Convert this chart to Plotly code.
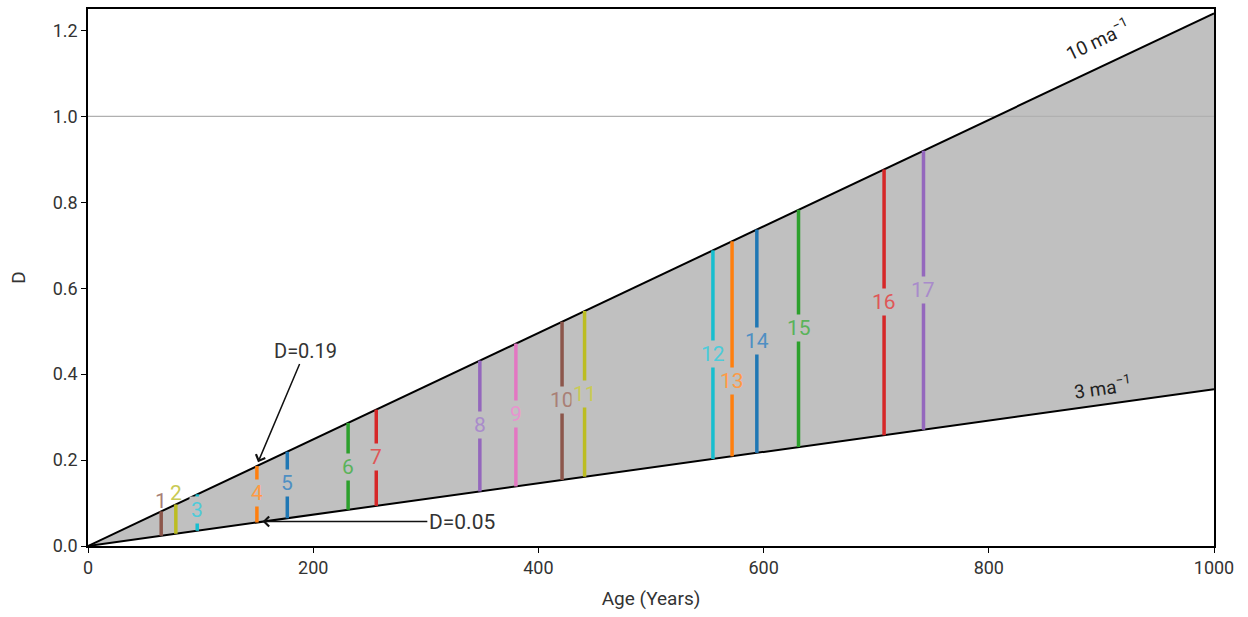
import plotly.graph_objects as go

# Envelope of D against age: upper and lower bounding rates (D per year)
upper_rate = 0.00124
lower_rate = 0.000365
age_max = 1000

# Sample ages (years) and their numbered labels
sample_ids = [str(i) for i in range(1, 18)]
sample_ages = [65, 78, 97, 150, 177, 231, 256, 348, 380, 421, 441, 555, 572, 594, 631, 707, 742]
label_d = [0.104, 0.123, 0.083, 0.123, 0.146, 0.185, 0.208, 0.281, 0.308, 0.341, 0.354,
           0.446, 0.384, 0.477, 0.507, 0.568, 0.595]
sample_colors = ["#8c564b", "#bcbd22", "#17becf", "#ff7f0e", "#1f77b4", "#2ca02c", "#d62728",
                 "#9467bd", "#e377c2", "#8c564b", "#bcbd22", "#17becf", "#ff7f0e", "#1f77b4",
                 "#2ca02c", "#d62728", "#9467bd"]
label_colors = ["#a97f76", "#c9ca55", "#4dcbd9", "#ff9a45", "#4f8fc3", "#5ab35a", "#df5757",
                "#a98bcb", "#e993cf", "#a97f76", "#c9ca55", "#4dcbd9", "#ff9a45", "#4f8fc3",
                "#5ab35a", "#df5757", "#a98bcb"]

band_color = "#c0c0c0"
font_family = "Roboto"

fig = go.Figure()

# Shaded band between the two rates
fig.add_trace(go.Scatter(
    x=[0, age_max, age_max, 0],
    y=[0, upper_rate * age_max, lower_rate * age_max, 0],
    fill="toself", fillcolor=band_color, mode="lines",
    line=dict(width=0), hoverinfo="skip", showlegend=False))

# Reference line at D = 1
fig.add_trace(go.Scatter(x=[0, age_max], y=[1.0, 1.0], mode="lines",
                         line=dict(color="#b0b0b0", width=1.3), showlegend=False))

# Bounding lines
for rate in (upper_rate, lower_rate):
    fig.add_trace(go.Scatter(x=[0, age_max], y=[0, rate * age_max], mode="lines",
                             line=dict(color="black", width=2), showlegend=False))

# Vertical range bar for each sample
for sid, age, col in zip(sample_ids, sample_ages, sample_colors):
    fig.add_trace(go.Scatter(x=[age, age], y=[lower_rate * age, upper_rate * age],
                             mode="lines", line=dict(color=col, width=3.5),
                             name=sid, showlegend=False))

annotations = []
for sid, age, ly, col in zip(sample_ids, sample_ages, label_d, label_colors):
    inside = lower_rate * age < ly < upper_rate * age
    annotations.append(dict(
        x=age, y=ly, text=sid, showarrow=False,
        font=dict(family=font_family, size=21, color=col),
        bgcolor=band_color if inside else "rgba(0,0,0,0)",
        borderpad=1))

# Rate labels along the bounding lines
annotations.append(dict(x=897, y=1.178, text="10 ma<sup>−1</sup>", showarrow=False,
                        textangle=-25.4, font=dict(family=font_family, size=19, color="#222")))
annotations.append(dict(x=901, y=0.368, text="3 ma<sup>−1</sup>", showarrow=False,
                        textangle=-8, font=dict(family=font_family, size=19, color="#222")))

# Callouts for the end-points of sample 4
annotations.append(dict(x=151, y=0.195, ax=193, ay=0.455, axref="x", ayref="y",
                        text="D=0.19", showarrow=True, arrowhead=4, arrowsize=1.3,
                        arrowwidth=1.5, arrowcolor="#111",
                        font=dict(family=font_family, size=20, color="#333")))
annotations.append(dict(x=155, y=0.057, ax=332, ay=0.057, axref="x", ayref="y",
                        text="D=0.05", showarrow=True, arrowhead=4, arrowsize=1.3,
                        arrowwidth=1.5, arrowcolor="#111",
                        font=dict(family=font_family, size=21, color="#333")))

axis_common = dict(showline=True, linecolor="black", linewidth=1.5, mirror=True,
                   ticks="outside", ticklen=5, tickwidth=1.2, tickcolor="black",
                   showgrid=False, zeroline=False,
                   tickfont=dict(family=font_family, size=18, color="#333"))

fig.update_layout(
    width=1248, height=617,
    margin=dict(l=88, r=34, t=7, b=71),
    plot_bgcolor="white", paper_bgcolor="white",
    xaxis=dict(range=[0, age_max], tickvals=[0, 200, 400, 600, 800, 1000],
               title=dict(text="Age (Years)", standoff=14,
                          font=dict(family=font_family, size=19, color="#333")),
               **axis_common),
    yaxis=dict(range=[0, 1.25], tickvals=[0, 0.2, 0.4, 0.6, 0.8, 1.0, 1.2], tickformat=".1f",
               title=dict(text="D", standoff=22,
                          font=dict(family=font_family, size=19, color="#333")),
               **axis_common),
    annotations=annotations,
)

fig.write_html("out.html")
